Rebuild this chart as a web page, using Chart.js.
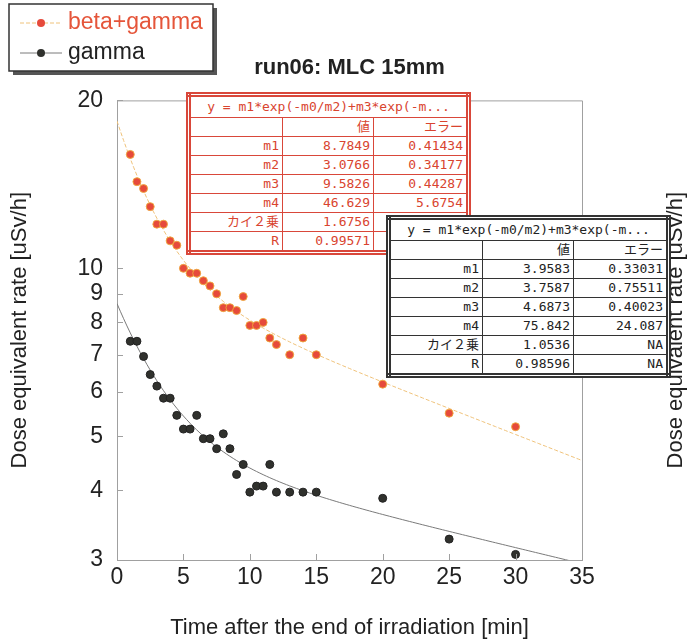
<!DOCTYPE html>
<html>
<head>
<meta charset="utf-8">
<title>run06: MLC 15mm</title>
<script src="https://cdn.jsdelivr.net/npm/chart.js@4.4.1/dist/chart.umd.min.js"></script>
<style>
  html, body { margin: 0; padding: 0; background: #fff; }
  #wrap { position: relative; width: 691px; height: 644px; }
  #chart { position: absolute; left: 0; top: 0; }
  table.fit {
    position: absolute;
    border-collapse: collapse;
    background: #fff;
    font-family: "DejaVu Sans Mono", "Noto Sans CJK JP", monospace;
    font-size: 13px;
    table-layout: fixed;
  }
  table.fit td { height: 18px; padding: 0 3px; text-align: right; white-space: nowrap; overflow: hidden; line-height: 18px; }
  table.fit td.head { text-align: center; height: 20px; }
  table.fit.red { left: 186px; top: 92px; color: #d9442f; border: 5px double #d9473a; }
  table.fit.red td { border: 1.5px solid #d9473a; }
  table.fit.black { left: 386px; top: 215px; color: #222; border: 5px double #333; }
  table.fit.black td { border: 1.5px solid #333; }
</style>
</head>
<body>
<div id="wrap">
  <canvas id="chart" width="691" height="644"></canvas>
</div>
<script>
// measured points (min after irradiation, uSv/h)
const timeMin   = [1, 1.5, 2, 2.5, 3, 3.5, 4, 4.5, 5, 5.5, 6, 6.5, 7, 7.5, 8, 8.5, 9, 9.5, 10, 10.5, 11, 11.5, 12, 13, 14, 15, 20, 25, 30];
const betaGamma = [16.0, 14.3, 13.9, 12.9, 12.0, 12.0, 11.2, 11.0, 10.0, 9.8, 9.8, 9.5, 9.3, 9.0, 8.5, 8.5, 8.4, 8.9, 7.9, 7.9, 8.0, 7.5, 7.3, 7.0, 7.5, 7.0, 6.2, 5.5, 5.2];
const gammaOnly = [7.4, 7.4, 6.95, 6.45, 6.15, 5.85, 5.85, 5.45, 5.15, 5.15, 5.45, 4.95, 4.95, 4.75, 5.05, 4.75, 4.27, 4.45, 3.97, 4.07, 4.07, 4.45, 3.97, 3.97, 3.97, 3.97, 3.87, 3.27, 3.07];

// axis ticks
const xTicks = [0, 5, 10, 15, 20, 25, 30, 35];
const yTicks = [3, 4, 5, 6, 7, 8, 9, 10, 20];

// fit results as printed in the two boxes
const fitFormula = 'y = m1*exp(-m0/m2)+m3*exp(-m...';
const fitRowNames = ['m1', 'm2', 'm3', 'm4', 'カイ２乗', 'R'];
const fitBetaGammaVal = ['8.7849', '3.0766', '9.5826', '46.629', '1.6756', '0.99571'];
const fitBetaGammaErr = ['0.41434', '0.34177', '0.44287', '5.6754', '...', 'NA'];
const fitGammaVal = ['3.9583', '3.7587', '4.6873', '75.842', '1.0536', '0.98596'];
const fitGammaErr = ['0.33031', '0.75511', '0.40023', '24.087', 'NA', 'NA'];

const FONT = '"Liberation Sans", Arial, Helvetica, sans-serif';
const RED = '#e64a3b';
const DARK = '#30312d';

// y = m1*exp(-x/m2) + m3*exp(-x/m4), using the printed parameters
function fitCurve(vals) {
  const p = vals.slice(0, 4).map(Number);
  const pts = [];
  for (let x = 0; x <= 35; x += 0.25) {
    pts.push({ x: x, y: p[0] * Math.exp(-x / p[1]) + p[2] * Math.exp(-x / p[3]) });
  }
  return pts;
}

function toPoints(ys) {
  return timeMin.map((t, i) => ({ x: t, y: ys[i] }));
}

// build one fit-result box
function buildTable(cls, vals, errs) {
  const tbl = document.createElement('table');
  tbl.className = 'fit ' + cls;
  let html = '<colgroup><col style="width:94px"><col style="width:91px"><col style="width:95px"></colgroup>';
  html += '<tr><td class="head" colspan="3">' + fitFormula + '</td></tr>';
  html += '<tr><td></td><td>値</td><td>エラー</td></tr>';
  fitRowNames.forEach((name, i) => {
    html += '<tr><td>' + name + '</td><td>' + vals[i] + '</td><td>' + errs[i] + '</td></tr>';
  });
  tbl.innerHTML = html;
  document.getElementById('wrap').appendChild(tbl);
}

// frame, inward ticks, right-hand axis title and the boxed legend
const extras = {
  id: 'extras',
  afterDraw(chart) {
    const ctx = chart.ctx;
    const a = chart.chartArea;
    const xs = chart.scales.x, ys = chart.scales.y;
    ctx.save();
    ctx.strokeStyle = '#a0a0a0';
    ctx.lineWidth = 1;
    ctx.beginPath();
    ctx.moveTo(a.left, a.top + 0.5); ctx.lineTo(a.right + 0.5, a.top + 0.5); ctx.lineTo(a.right + 0.5, a.bottom);
    xTicks.forEach(v => {
      const px = Math.round(xs.getPixelForValue(v)) + 0.5;
      ctx.moveTo(px, a.bottom); ctx.lineTo(px, a.bottom - 6);
    });
    yTicks.forEach(v => {
      const py = Math.round(ys.getPixelForValue(v)) + 0.5;
      ctx.moveTo(a.left, py); ctx.lineTo(a.left + 6, py);
    });
    ctx.stroke();

    // right axis title, reading bottom to top like the left one
    ctx.fillStyle = '#222';
    ctx.font = '22px ' + FONT;
    ctx.textAlign = 'center';
    ctx.textBaseline = 'middle';
    ctx.translate(676, (a.top + a.bottom) / 2);
    ctx.rotate(-Math.PI / 2);
    ctx.fillText('Dose equivalent rate [uSv/h]', 0, 0);
    ctx.restore();

    // legend box with shadow
    ctx.save();
    ctx.fillStyle = '#555';
    ctx.fillRect(13, 8, 204, 67);
    ctx.fillStyle = '#fff';
    ctx.fillRect(9, 4, 204, 67);
    ctx.strokeStyle = '#333';
    ctx.lineWidth = 1.5;
    ctx.strokeRect(9, 4, 204, 67);
    const items = [
      { ds: chart.data.datasets[0], line: chart.data.datasets[2], y: 23, text: '#e5553a' },
      { ds: chart.data.datasets[1], line: chart.data.datasets[3], y: 53, text: '#222' }
    ];
    items.forEach(it => {
      ctx.strokeStyle = it.line.borderColor;
      ctx.lineWidth = 1;
      ctx.setLineDash(it.line.borderDash || []);
      ctx.beginPath();
      ctx.moveTo(20, it.y); ctx.lineTo(62, it.y);
      ctx.stroke();
      ctx.setLineDash([]);
      ctx.fillStyle = it.ds.backgroundColor;
      ctx.beginPath();
      ctx.arc(41, it.y, 4, 0, Math.PI * 2);
      ctx.fill();
      ctx.fillStyle = it.text;
      ctx.font = '23px ' + FONT;
      ctx.textAlign = 'left';
      ctx.textBaseline = 'middle';
      ctx.fillText(it.ds.label, 68, it.y);
    });
    ctx.restore();
  }
};

new Chart(document.getElementById('chart'), {
  type: 'scatter',
  data: {
    datasets: [
      {
        label: 'beta+gamma',
        data: toPoints(betaGamma),
        backgroundColor: RED,
        borderColor: 'rgba(240,170,60,0.9)',
        borderWidth: 1,
        pointRadius: 4,
        order: 1
      },
      {
        label: 'gamma',
        data: toPoints(gammaOnly),
        backgroundColor: DARK,
        borderColor: '#222',
        borderWidth: 1,
        pointRadius: 4,
        order: 1
      },
      {
        label: 'fit beta+gamma',
        data: fitCurve(fitBetaGammaVal),
        showLine: true,
        borderColor: '#efc27a',
        borderDash: [4, 2],
        borderWidth: 1,
        pointRadius: 0,
        order: 2
      },
      {
        label: 'fit gamma',
        data: fitCurve(fitGammaVal),
        showLine: true,
        borderColor: '#7a7a7a',
        borderWidth: 1,
        pointRadius: 0,
        order: 2
      }
    ]
  },
  options: {
    responsive: false,
    animation: false,
    devicePixelRatio: 1,
    layout: { padding: { top: 55, right: 109, left: 0, bottom: 0 } },
    plugins: {
      legend: { display: false },
      tooltip: { enabled: false },
      title: {
        display: true,
        text: 'run06: MLC 15mm',
        fullSize: false,
        color: '#222',
        font: { family: FONT, size: 22, weight: 'bold' },
        padding: { top: 0, bottom: 19 }
      }
    },
    scales: {
      x: {
        type: 'linear',
        min: 0,
        max: 35,
        afterBuildTicks: s => { s.ticks = xTicks.map(v => ({ value: v })); },
        afterFit: s => { s.height = 84; },
        ticks: { color: '#222', font: { family: FONT, size: 23 }, padding: 4, maxRotation: 0 },
        grid: { drawOnChartArea: false, drawTicks: false },
        border: { color: '#a0a0a0' },
        title: {
          display: true,
          text: 'Time after the end of irradiation [min]',
          color: '#222',
          font: { family: FONT, size: 22 },
          padding: { top: 0, bottom: 3 }
        }
      },
      y: {
        type: 'logarithmic',
        min: 3,
        max: 20,
        afterBuildTicks: s => { s.ticks = yTicks.map(v => ({ value: v })); },
        afterFit: s => { s.width = 117; },
        ticks: { color: '#222', font: { family: FONT, size: 23 }, padding: 14, callback: v => String(v) },
        grid: { drawOnChartArea: false, drawTicks: false },
        border: { color: '#a0a0a0' },
        title: {
          display: true,
          text: 'Dose equivalent rate [uSv/h]',
          color: '#222',
          font: { family: FONT, size: 22 },
          padding: { top: 7, bottom: 0 }
        }
      }
    }
  },
  plugins: [extras]
});

buildTable('red', fitBetaGammaVal, fitBetaGammaErr);
buildTable('black', fitGammaVal, fitGammaErr);
</script>
</body>
</html>
